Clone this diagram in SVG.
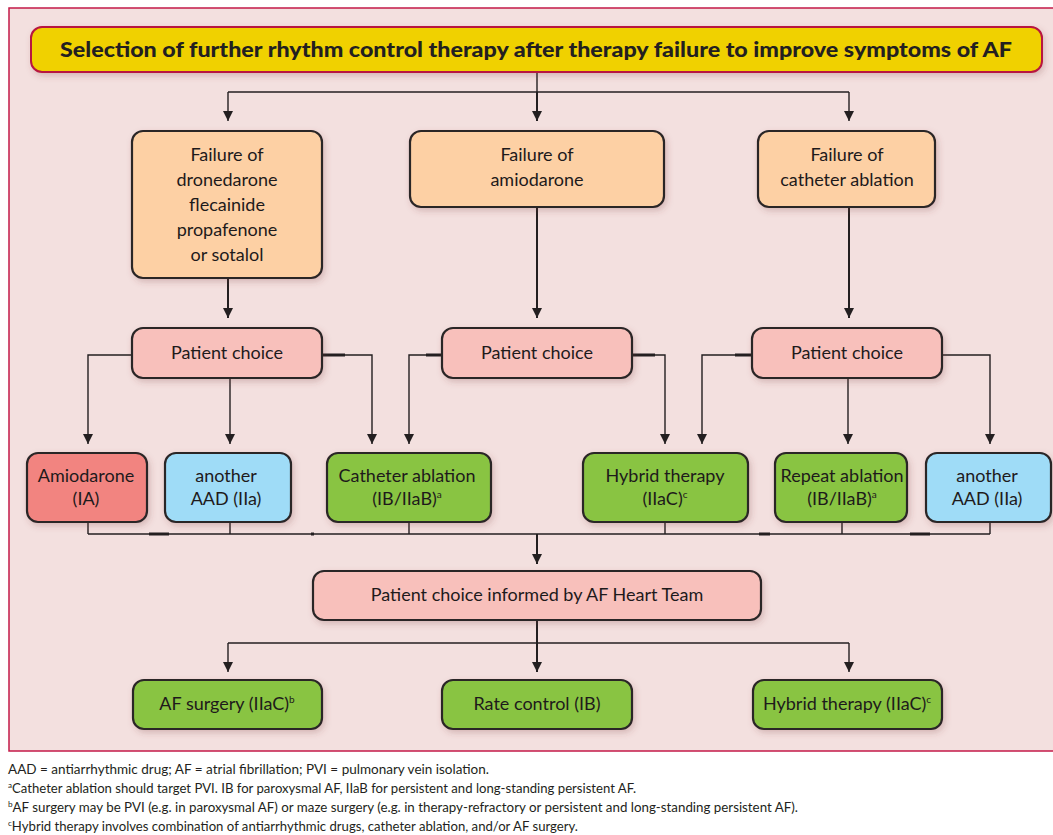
<svg xmlns="http://www.w3.org/2000/svg" width="1053" height="835" viewBox="0 0 1053 835">
  <style>
    .box { stroke: #2b2628; stroke-width: 2.2; filter: url(#shadow); }
    .orange { fill: #fdd0a4; }
    .pink { fill: #f8c0bb; }
    .red { fill: #f28480; }
    .blue { fill: #9fdcf7; }
    .green { fill: #89c443; }
    .lbl { font-family: Lato, "Open Sans", sans-serif; font-size: 18px; fill: #1e1a1b; text-anchor: middle; }
    .sup { font-size: 10px; }
    .title { font-family: Lato, "Open Sans", sans-serif; font-size: 21px; font-weight: 900; fill: #231f20; text-anchor: middle; }
    .note { font-family: Lato, "Open Sans", sans-serif; font-size: 13px; fill: #231f20; }
    .nsup { font-size: 8px; }
    .wire { stroke: #231f20; stroke-width: 1.4; fill: none; }
    .heavy { stroke: #231f20; stroke-width: 2; fill: none; }
    .tick { stroke: #231f20; stroke-width: 3; }
  </style>
  <defs>
    <marker id="arrow" viewBox="0 0 10 10" refX="10" refY="5" markerWidth="10" markerHeight="10" markerUnits="userSpaceOnUse" orient="auto">
      <path d="M0,0 L10,5 L0,10 Z" fill="#231f20"/>
    </marker>
    <filter id="shadow" x="-10%" y="-20%" width="125%" height="150%">
      <feDropShadow dx="2" dy="3" stdDeviation="3" flood-color="#7a4040" flood-opacity="0.25"/>
    </filter>
  </defs>

  <!-- panel -->
  <rect x="0" y="0" width="1053" height="835" fill="#ffffff"/>
  <rect x="9" y="8" width="1060" height="743" fill="#f3e0df" stroke="#c41a48" stroke-width="1.5"/>

  <!-- connectors -->
  <g id="connectors">
    <!-- title to first row -->
    <path class="wire" d="M537,72 V92"/>
    <path class="wire" d="M228,92 H849"/>
    <path class="wire" d="M228,92 V121" marker-end="url(#arrow)"/>
    <path class="heavy" d="M537,92 V121" marker-end="url(#arrow)"/>
    <path class="wire" d="M849,92 V121" marker-end="url(#arrow)"/>

    <!-- first row to patient choice -->
    <path class="heavy" d="M228,278 V318" marker-end="url(#arrow)"/>
    <path class="heavy" d="M537,207 V318" marker-end="url(#arrow)"/>
    <path class="heavy" d="M849,207 V318" marker-end="url(#arrow)"/>

    <!-- patient choice 1 -->
    <path class="wire" d="M132,355 H88 V444" marker-end="url(#arrow)"/>
    <path class="wire" d="M230,378 V444" marker-end="url(#arrow)"/>
    <path class="wire" d="M322,355 H372 V444" marker-end="url(#arrow)"/>
    <line class="tick" x1="322" y1="355" x2="345" y2="355"/>

    <!-- patient choice 2 -->
    <path class="wire" d="M442,355 H409 V444" marker-end="url(#arrow)"/>
    <path class="wire" d="M632,355 H665 V444" marker-end="url(#arrow)"/>
    <line class="tick" x1="426" y1="355" x2="442" y2="355"/>
    <line class="tick" x1="632" y1="355" x2="655" y2="355"/>

    <!-- patient choice 3 -->
    <path class="wire" d="M752,355 H702 V444" marker-end="url(#arrow)"/>
    <path class="wire" d="M848,378 V444" marker-end="url(#arrow)"/>
    <path class="wire" d="M942,355 H990 V444" marker-end="url(#arrow)"/>
    <line class="tick" x1="735" y1="355" x2="752" y2="355"/>

    <!-- collecting bar -->
    <path class="wire" d="M88,522 V534 M230,522 V534 M409,522 V534 M665,522 V534 M842,522 V534 M990,522 V534"/>
    <path class="wire" d="M88,534 H990"/>
    <line class="tick" x1="149" y1="534" x2="169" y2="534"/>
    <line class="tick" x1="311" y1="534" x2="314" y2="534"/>
    <line class="tick" x1="759" y1="534" x2="770" y2="534"/>
    <line class="tick" x1="910" y1="534" x2="930" y2="534"/>
    <path class="heavy" d="M537,534 V564" marker-end="url(#arrow)"/>

    <!-- heart team to outcomes -->
    <path class="heavy" d="M537,620 V672" marker-end="url(#arrow)"/>
    <path class="wire" d="M228,643 H849"/>
    <path class="wire" d="M228,643 V672" marker-end="url(#arrow)"/>
    <path class="wire" d="M849,643 V672" marker-end="url(#arrow)"/>
  </g>

  <!-- title -->
  <g id="title">
    <rect x="31" y="27" width="1011" height="45" rx="11" fill="#f0d100" stroke="#b8133f" stroke-width="2" filter="url(#shadow)"/>
    <text class="title" x="536" y="57" textLength="952" lengthAdjust="spacingAndGlyphs">Selection of further rhythm control therapy after therapy failure to improve symptoms of AF</text>
  </g>

  <!-- first row -->
  <g id="fail-dronedarone">
    <rect class="box orange" x="132" y="131" width="190" height="147" rx="11"/>
    <text class="lbl" x="227" y="161">Failure of</text>
    <text class="lbl" x="227" y="186">dronedarone</text>
    <text class="lbl" x="227" y="211">flecainide</text>
    <text class="lbl" x="227" y="236">propafenone</text>
    <text class="lbl" x="227" y="261">or sotalol</text>
  </g>
  <g id="fail-amiodarone">
    <rect class="box orange" x="410" y="131" width="254" height="76" rx="11"/>
    <text class="lbl" x="537" y="161">Failure of</text>
    <text class="lbl" x="537" y="186">amiodarone</text>
  </g>
  <g id="fail-ablation">
    <rect class="box orange" x="758" y="131" width="177" height="76" rx="11"/>
    <text class="lbl" x="847" y="161">Failure of</text>
    <text class="lbl" x="847" y="186">catheter ablation</text>
  </g>

  <!-- patient choice row -->
  <g id="choice-1">
    <rect class="box pink" x="132" y="328" width="190" height="50" rx="11"/>
    <text class="lbl" x="227" y="359">Patient choice</text>
  </g>
  <g id="choice-2">
    <rect class="box pink" x="442" y="328" width="190" height="50" rx="11"/>
    <text class="lbl" x="537" y="359">Patient choice</text>
  </g>
  <g id="choice-3">
    <rect class="box pink" x="752" y="328" width="190" height="50" rx="11"/>
    <text class="lbl" x="847" y="359">Patient choice</text>
  </g>

  <!-- options row -->
  <g id="opt-amiodarone">
    <rect class="box red" x="27" y="453" width="120" height="69" rx="11"/>
    <text class="lbl" x="86" y="482">Amiodarone</text>
    <text class="lbl" x="86" y="505">(IA)</text>
  </g>
  <g id="opt-aad-1">
    <rect class="box blue" x="165" y="453" width="126" height="69" rx="11"/>
    <text class="lbl" x="226" y="482">another</text>
    <text class="lbl" x="226" y="505">AAD (IIa)</text>
  </g>
  <g id="opt-catheter">
    <rect class="box green" x="327" y="453" width="164" height="69" rx="11"/>
    <text class="lbl" x="407" y="482">Catheter ablation</text>
    <text class="lbl" x="407" y="505">(IB/IIaB)<tspan class="sup" dy="-7">a</tspan></text>
  </g>
  <g id="opt-hybrid">
    <rect class="box green" x="583" y="453" width="165" height="69" rx="11"/>
    <text class="lbl" x="665" y="482">Hybrid therapy</text>
    <text class="lbl" x="665" y="505">(IIaC)<tspan class="sup" dy="-7">c</tspan></text>
  </g>
  <g id="opt-repeat">
    <rect class="box green" x="775" y="453" width="132" height="69" rx="11"/>
    <text class="lbl" x="842" y="482">Repeat ablation</text>
    <text class="lbl" x="842" y="505">(IB/IIaB)<tspan class="sup" dy="-7">a</tspan></text>
  </g>
  <g id="opt-aad-2">
    <rect class="box blue" x="926" y="453" width="125" height="69" rx="11"/>
    <text class="lbl" x="987" y="482">another</text>
    <text class="lbl" x="987" y="505">AAD (IIa)</text>
  </g>

  <!-- heart team -->
  <g id="heart-team">
    <rect class="box pink" x="313" y="571" width="448" height="49" rx="11"/>
    <text class="lbl" x="537" y="601">Patient choice informed by AF Heart Team</text>
  </g>

  <!-- outcomes -->
  <g id="af-surgery">
    <rect class="box green" x="133" y="680" width="189" height="49" rx="11"/>
    <text class="lbl" x="227" y="710">AF surgery (IIaC)<tspan class="sup" dy="-7">b</tspan></text>
  </g>
  <g id="rate-control">
    <rect class="box green" x="442" y="680" width="190" height="49" rx="11"/>
    <text class="lbl" x="537" y="710">Rate control (IB)</text>
  </g>
  <g id="hybrid-final">
    <rect class="box green" x="753" y="680" width="189" height="49" rx="11"/>
    <text class="lbl" x="847" y="710">Hybrid therapy (IIaC)<tspan class="sup" dy="-7">c</tspan></text>
  </g>

  <!-- notes -->
  <g id="notes">
    <text class="note" x="8" y="774" textLength="481" lengthAdjust="spacingAndGlyphs">AAD = antiarrhythmic drug; AF = atrial fibrillation;  PVI = pulmonary vein isolation.</text>
    <text class="note" x="8" y="793" textLength="628" lengthAdjust="spacingAndGlyphs"><tspan class="nsup" dy="-5">a</tspan><tspan dy="5">Catheter ablation should target PVI. IB for paroxysmal AF, IIaB for persistent and long-standing persistent AF.</tspan></text>
    <text class="note" x="8" y="812" textLength="790" lengthAdjust="spacingAndGlyphs"><tspan class="nsup" dy="-5">b</tspan><tspan dy="5">AF surgery may be PVI (e.g. in paroxysmal AF) or maze surgery (e.g. in therapy-refractory or persistent and long-standing persistent AF).</tspan></text>
    <text class="note" x="8" y="831" textLength="570" lengthAdjust="spacingAndGlyphs"><tspan class="nsup" dy="-5">c</tspan><tspan dy="5">Hybrid therapy involves combination of antiarrhythmic drugs, catheter ablation, and/or AF surgery.</tspan></text>
  </g>
</svg>
